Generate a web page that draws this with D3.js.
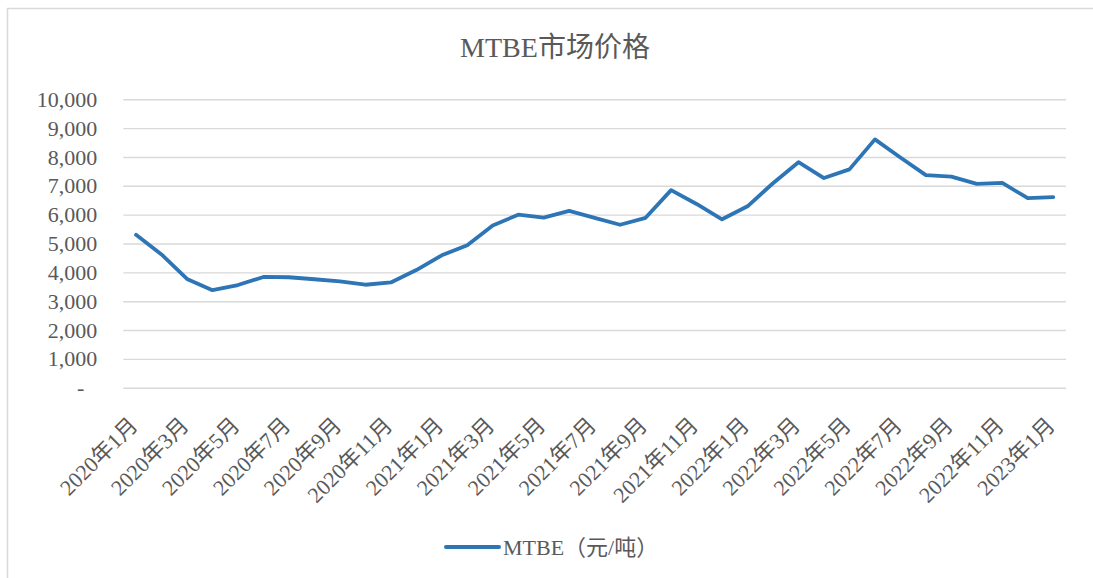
<!DOCTYPE html>
<html>
<head>
<meta charset="utf-8">
<script src="https://cdn.jsdelivr.net/npm/d3@7"></script>
<style>
  html, body { margin: 0; padding: 0; background: #fff; }
  svg { display: block; }
</style>
</head>
<body>
<div id="chart"></div>
<script>
// MTBE monthly price, 2020-01 .. 2023-01 (yuan/ton)
const months = [
  '2020年1月','2020年2月','2020年3月','2020年4月','2020年5月','2020年6月','2020年7月','2020年8月','2020年9月','2020年10月','2020年11月','2020年12月',
  '2021年1月','2021年2月','2021年3月','2021年4月','2021年5月','2021年6月','2021年7月','2021年8月','2021年9月','2021年10月','2021年11月','2021年12月',
  '2022年1月','2022年2月','2022年3月','2022年4月','2022年5月','2022年6月','2022年7月','2022年8月','2022年9月','2022年10月','2022年11月','2022年12月',
  '2023年1月'
];
const prices = [
  5300, 4620, 3770, 3380, 3560, 3840, 3830, 3760, 3690, 3570, 3650, 4080,
  4590, 4940, 5620, 6000, 5900, 6130, 5890, 5650, 5890, 6850, 6370, 5840,
  6290, 7090, 7820, 7270, 7570, 8610, 7980, 7370, 7320, 7070, 7100, 6570,
  6610
];
const yTicks = [0, 1000, 2000, 3000, 4000, 5000, 6000, 7000, 8000, 9000, 10000];
const seriesName = 'MTBE（元/吨）';
const chartTitle = 'MTBE市场价格';

const width = 1093, height = 578;
const plotLeft = 123.3, plotRight = 1066, plotTop = 99.3, plotBottom = 387.7;
const textColor = '#595959';
const lineColor = '#2e75b6';
const fontFamily = '"Times New Roman", "Liberation Serif", "Noto Sans CJK SC", serif';

const svg = d3.select('#chart').append('svg')
  .attr('width', width)
  .attr('height', height)
  .style('font-family', fontFamily);

// outer chart border (only left/top edges fall inside the picture)
svg.append('rect')
  .attr('x', 7.5).attr('y', 8.5)
  .attr('width', 1200).attr('height', 1000)
  .attr('fill', 'none')
  .attr('stroke', '#d9d9d9')
  .attr('stroke-width', 1.5);

const x = d3.scaleBand().domain(months).range([plotLeft, plotRight]).padding(0);
const y = d3.scaleLinear().domain([0, 10000]).range([plotBottom, plotTop]);

// gridlines
svg.append('g')
  .attr('transform', `translate(${plotLeft},0)`)
  .call(d3.axisLeft(y).tickValues(yTicks).tickSize(-(plotRight - plotLeft)).tickFormat(''))
  .call(g => g.select('.domain').remove())
  .call(g => g.selectAll('line').attr('stroke', '#d9d9d9').attr('stroke-width', 1.4));

// y labels
svg.append('g')
  .attr('transform', `translate(${plotLeft},0)`)
  .call(d3.axisLeft(y).tickValues(yTicks).tickSize(0).tickPadding(26)
    .tickFormat(d => d === 0 ? '-' : d3.format(',')(d)))
  .call(g => g.select('.domain').remove())
  .call(g => g.selectAll('text')
    .attr('fill', textColor)
    .style('font-size', '22px')
    .style('font-family', fontFamily)
    .attr('x', d => d === 0 ? -39 : -26));

// x labels, every second month
svg.append('g')
  .attr('transform', `translate(0,${plotBottom})`)
  .call(d3.axisBottom(x).tickValues(months.filter((m, i) => i % 2 === 0)).tickSize(0))
  .call(g => g.select('.domain').remove())
  .call(g => g.selectAll('text')
    .attr('fill', textColor)
    .style('font-size', '22px')
    .style('font-family', fontFamily)
    .attr('text-anchor', 'end')
    .attr('x', 3).attr('y', 39).attr('dy', 0)
    .attr('transform', 'rotate(-45, 3, 39)'));

// series line
const line = d3.line()
  .x((d, i) => x(months[i]) + x.bandwidth() / 2)
  .y(d => y(d));

svg.append('path')
  .datum(prices)
  .attr('d', line)
  .attr('fill', 'none')
  .attr('stroke', lineColor)
  .attr('stroke-width', 3.8)
  .attr('stroke-linejoin', 'round')
  .attr('stroke-linecap', 'round');

// title
svg.append('text')
  .attr('x', 555).attr('y', 57)
  .attr('text-anchor', 'middle')
  .attr('fill', textColor)
  .style('font-size', '28px')
  .text(chartTitle);

// legend
const legend = svg.append('g').attr('transform', 'translate(446,547)');
legend.append('line')
  .attr('x1', 0).attr('x2', 53)
  .attr('y1', 0).attr('y2', 0)
  .attr('stroke', lineColor)
  .attr('stroke-width', 4)
  .attr('stroke-linecap', 'round');
legend.append('text')
  .attr('x', 57).attr('y', 8)
  .attr('fill', textColor)
  .style('font-size', '22px')
  .text(seriesName);
</script>
</body>
</html>
